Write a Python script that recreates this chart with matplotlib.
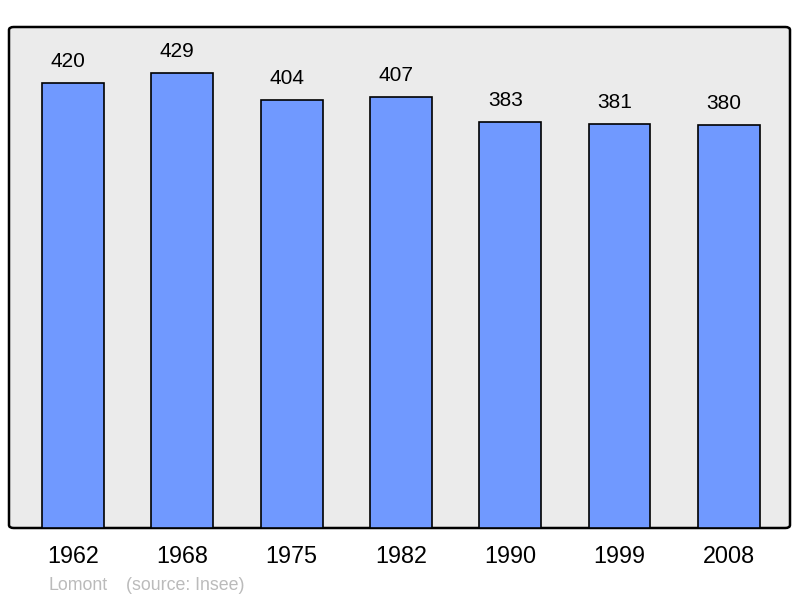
import matplotlib
matplotlib.use("Agg")
import matplotlib.pyplot as plt
from matplotlib.patches import FancyBboxPatch

years = ["1962", "1968", "1975", "1982", "1990", "1999", "2008"]
population = [420, 429, 404, 407, 383, 381, 380]
commune = "Lomont"
source = "(source: Insee)"

plt.rcParams['font.family'] = ['Liberation Sans', 'DejaVu Sans']

fig = plt.figure(figsize=(8, 5.98), dpi=100)
ax = fig.add_axes([9/800, 1-528/598, 781/800, (528-27)/598])
ax.set_xlim(-0.5855, 6.56)
ax.set_ylim(0, 472.6)
ax.axis('off')

bg = FancyBboxPatch((0, 0), 1, 1, boxstyle="round,pad=0,rounding_size=0.006",
                    transform=ax.transAxes, facecolor="#ebebeb", edgecolor="black",
                    linewidth=1.8, zorder=0, clip_on=False)
ax.add_patch(bg)

x = list(range(len(years)))
bars = ax.bar(x, population, width=0.567, color="#7099ff", edgecolor="black",
              linewidth=1.2, zorder=2)
for xi, v in zip(x, population):
    ax.annotate(str(v), (xi, v), xytext=(-3.6, 15.3), textcoords="offset points",
                ha="center", va="center", fontsize=15, color="black")
for xi, y in zip(x, years):
    ax.annotate(y, (xi, 0), xytext=(0, -20.5), textcoords="offset points",
                ha="center", va="center", fontsize=16.8, color="black",
                annotation_clip=False)

fig.text(48/800, 1-585/598, commune, fontsize=12.8, color="#bbbbbb", va="center", ha="left")
fig.text(126/800, 1-585/598, source, fontsize=12.8, color="#bbbbbb", va="center", ha="left")

fig.savefig("out.png", dpi=100)
